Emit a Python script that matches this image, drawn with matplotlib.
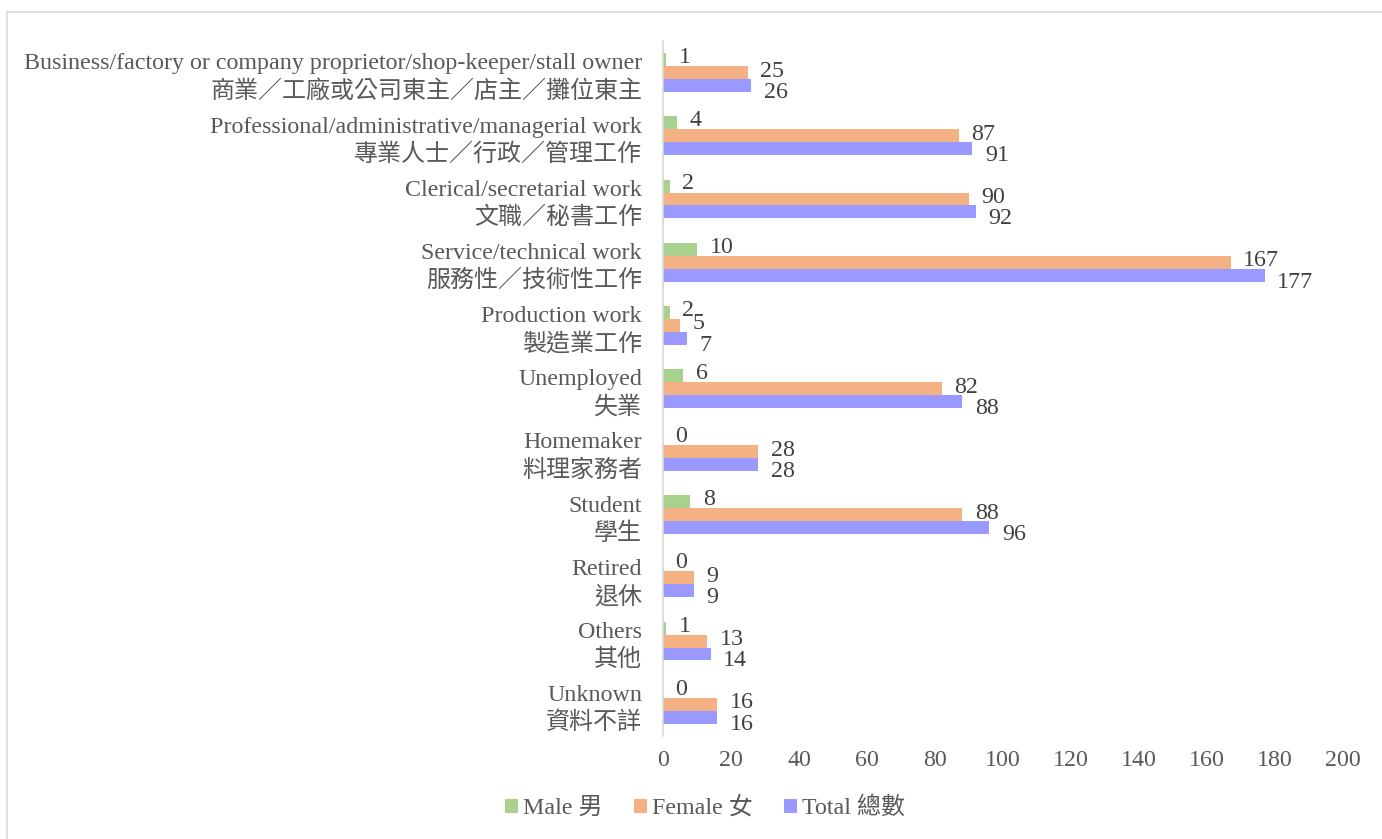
import matplotlib.pyplot as plt
import numpy as np

plt.rcParams['font.family'] = ['Liberation Serif', 'Noto Sans CJK TC']

cats_en = ['Business/factory or company proprietor/shop-keeper/stall owner',
           'Professional/administrative/managerial work',
           'Clerical/secretarial work',
           'Service/technical work',
           'Production work',
           'Unemployed',
           'Homemaker',
           'Student',
           'Retired',
           'Others',
           'Unknown']
cats_zh = ['商業／工廠或公司東主／店主／攤位東主',
           '專業人士／行政／管理工作',
           '文職／秘書工作',
           '服務性／技術性工作',
           '製造業工作',
           '失業',
           '料理家務者',
           '學生',
           '退休',
           '其他',
           '資料不詳']
male = [1, 4, 2, 10, 2, 6, 0, 8, 0, 1, 0]
female = [25, 87, 90, 167, 5, 82, 28, 88, 9, 13, 16]
total = [26, 91, 92, 177, 7, 88, 28, 96, 9, 14, 16]

# name, values, colour, label nudge (points, up is +)
series = [('Male 男', male, '#A9D18E', 1.5),
          ('Female 女', female, '#F4B183', 1.0),
          ('Total 總數', total, '#9999FF', -5.0)]

fig = plt.figure(figsize=(13.82, 8.39), dpi=100)
ax = fig.add_axes([0.4797, 0.123, 0.4921, 0.828])

y = np.arange(len(cats_en))
h = 0.205
for k, (name, vals, col, dy) in enumerate(series):
    pos = y + (k - 1) * h
    ax.barh(pos, vals, height=h, color=col, label=name)
    for p, v in zip(pos, vals):
        ax.annotate(str(v), (v, p), xytext=(9, dy), textcoords='offset points',
                    ha='left', va='center', fontsize=17.3, color='#404040')

ax.set_ylim(len(cats_en) - 0.5, -0.5)
ax.set_xlim(0, 200)
ax.set_xticks(np.arange(0, 201, 20))
ax.set_yticks(y)
ax.set_yticklabels([e + '\n' + z for e, z in zip(cats_en, cats_zh)],
                   fontsize=17.3, color='#595959', linespacing=1.33)
ax.tick_params(axis='y', length=0, pad=15)
ax.tick_params(axis='x', length=0, pad=10, labelsize=17.3, labelcolor='#595959')
for s in ['top', 'right', 'bottom']:
    ax.spines[s].set_visible(False)
ax.spines['left'].set_color('#D9D9D9')
ax.spines['left'].set_linewidth(1.2)

fig.legend(loc='center', bbox_to_anchor=(0.51, 0.037), ncol=3, frameon=False,
           fontsize=17.3, handlelength=0.55, handleheight=0.55, handletextpad=0.2,
           columnspacing=1.3, labelcolor='#595959')

# outer chart border
fig.add_artist(plt.Line2D([0.005, 0.005], [0, 0.986], color='#D9D9D9', lw=1.2))
fig.add_artist(plt.Line2D([0.005, 1], [0.986, 0.986], color='#D9D9D9', lw=1.2))

fig.savefig('out.png', dpi=100)
